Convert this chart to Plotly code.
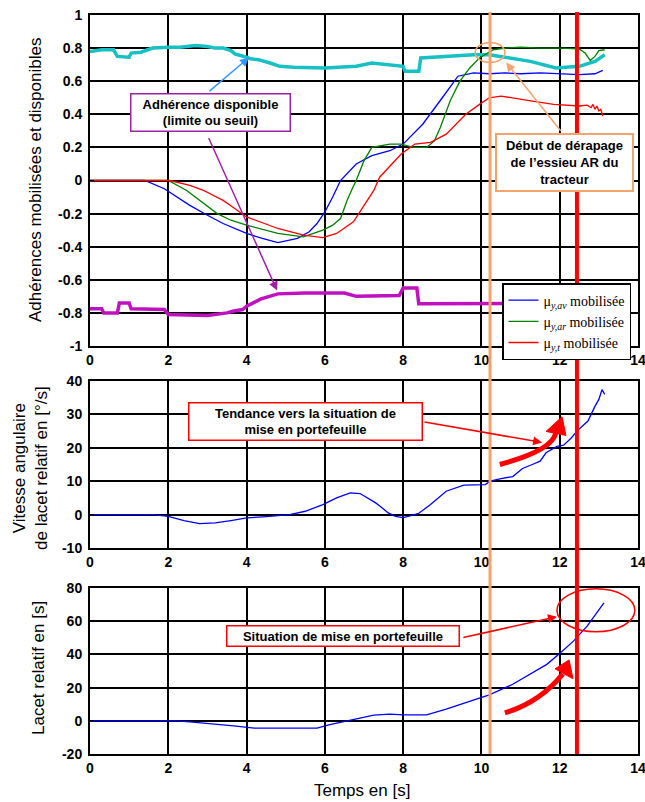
import plotly.graph_objects as go

# ---------------- DATA ----------------
# Top plot: adherences (mobilised and available)
t_av = [0, 1.4, 1.9, 2.3, 2.55, 3.0, 3.4, 4.0, 4.4, 4.8, 5.3, 5.6, 5.8, 6.0, 6.2, 6.4,
        6.8, 7.2, 7.66, 8.0, 8.5, 9.0, 9.4, 9.8, 10.2, 10.6, 11.0, 11.5, 12.0, 12.5,
        12.9, 13.05, 13.1]
mu_av = [0, 0, -0.05, -0.11, -0.15, -0.21, -0.26, -0.32, -0.35, -0.375, -0.35, -0.31,
         -0.26, -0.19, -0.1, 0.0, 0.1, 0.15, 0.18, 0.22, 0.34, 0.5, 0.63, 0.65, 0.645,
         0.65, 0.645, 0.65, 0.645, 0.64, 0.645, 0.66, 0.665]

t_ar = [0, 2.0, 2.47, 2.8, 3.25, 3.6, 4.0, 4.8, 5.45, 5.95, 6.2, 6.4, 6.57, 6.7, 6.8,
        7.0, 7.2, 7.66, 7.95, 8.26, 8.6, 8.8, 8.95, 9.2, 9.45, 9.7, 9.95, 10.3, 10.6,
        11.0, 11.5, 12.0, 12.5, 12.65, 12.78, 12.9, 13.0, 13.15]
mu_ar = [0, 0, -0.06, -0.12, -0.2, -0.24, -0.27, -0.32, -0.34, -0.30, -0.27, -0.23,
         -0.12, -0.05, 0.0, 0.12, 0.2, 0.22, 0.22, 0.2, 0.2, 0.24, 0.32, 0.48, 0.6, 0.68,
         0.74, 0.79, 0.8, 0.805, 0.80, 0.80, 0.795, 0.77, 0.725, 0.75, 0.785, 0.79]

t_t = [0, 2.04, 2.55, 2.9, 3.07, 3.4, 3.58, 4.0, 4.8, 5.45, 5.95, 6.3, 6.73, 7.08, 7.25,
       7.4, 7.7, 7.95, 8.3, 8.7, 9.1, 9.6, 9.95, 10.2, 10.5, 10.8, 11.3, 11.85, 12.2,
       12.5, 12.7, 12.8, 12.85, 12.9, 12.95, 13.0, 13.05, 13.1]
mu_t = [0, 0, -0.03, -0.06, -0.08, -0.12, -0.15, -0.22, -0.29, -0.33, -0.345, -0.32,
        -0.25, -0.12, -0.06, 0.02, 0.1, 0.16, 0.22, 0.23, 0.28, 0.40, 0.46, 0.5, 0.51,
        0.50, 0.48, 0.46, 0.455, 0.45, 0.455, 0.44, 0.46, 0.43, 0.45, 0.42, 0.43, 0.39]

t_lim_sup = [0, 0.3, 0.6, 0.7, 1.0, 1.05, 1.3, 1.5, 1.6, 2.0, 2.3, 2.7, 3.0, 3.2, 3.4,
             3.6, 3.7, 4.0, 4.1, 4.3, 4.5, 4.6, 4.85, 5.2, 6.0, 6.8, 7.2, 7.66, 8.0,
             8.05, 8.4, 8.45, 9.1, 9.8, 10.2, 10.55, 11.25, 11.9, 12.5, 12.9, 13.15]
lim_sup = [0.78, 0.79, 0.79, 0.75, 0.745, 0.77, 0.775, 0.79, 0.80, 0.805, 0.805, 0.815,
           0.81, 0.80, 0.80, 0.785, 0.765, 0.745, 0.735, 0.73, 0.72, 0.71, 0.69, 0.685,
           0.68, 0.69, 0.71, 0.70, 0.69, 0.66, 0.66, 0.74, 0.75, 0.76, 0.76, 0.745,
           0.72, 0.68, 0.69, 0.72, 0.76]

t_lim_inf = [0, 0.3, 0.35, 0.7, 0.75, 1.0, 1.05, 1.5, 1.9, 2.0, 3.0, 3.5, 3.65, 3.9,
             4.0, 4.37, 4.6, 4.8, 5.5, 6.5, 6.8, 7.2, 7.5, 7.9, 8.0, 8.35, 8.4, 9.0,
             10.0, 11.0, 12.0, 13.1]
lim_inf = [-0.775, -0.775, -0.80, -0.80, -0.74, -0.74, -0.775, -0.78, -0.78, -0.81,
           -0.815, -0.80, -0.79, -0.78, -0.76, -0.715, -0.70, -0.685, -0.68, -0.68,
           -0.70, -0.70, -0.695, -0.695, -0.65, -0.65, -0.745, -0.745, -0.745, -0.74,
           -0.74, -0.74]

# Middle plot: relative yaw rate [deg/s]
t_rate = [0, 1.6, 2.0, 2.4, 2.8, 3.2, 3.6, 4.0, 4.5, 5.1, 5.5, 5.95, 6.3, 6.65, 6.9,
          7.1, 7.3, 7.41, 7.62, 7.8, 8.0, 8.2, 8.4, 8.7, 9.1, 9.55, 10.1, 10.22, 10.5,
          10.8, 11.05, 11.3, 11.5, 11.65, 11.93, 12.1, 12.3, 12.44, 12.72, 12.9, 13.0,
          13.08, 13.15]
yaw_rate = [0, 0, -0.5, -1.8, -2.7, -2.5, -1.8, -1.0, -0.6, 0.0, 1.0, 3.0, 5.0, 6.5,
            6.3, 5.0, 3.5, 2.5, 0.5, -0.5, -0.9, -0.3, 0.4, 3.0, 7.0, 8.8, 9.0, 10.0,
            10.8, 11.4, 13.8, 15.0, 16.0, 18.5, 20.4, 20.8, 23.0, 25.0, 28.0, 32.4,
            34.5, 37.4, 36.0]

# Bottom plot: relative yaw
t_yaw = [0, 2.2, 2.55, 3.0, 3.67, 4.2, 5.0, 5.8, 6.1, 6.4, 6.73, 7.0, 7.25, 7.66, 8.0,
         8.6, 9.1, 9.6, 10.2, 10.8, 11.24, 11.67, 12.0, 12.35, 12.7, 12.95, 13.13]
yaw = [0, 0, -0.6, -1.5, -3.0, -4.4, -4.4, -4.4, -2.4, -1.0, 0.6, 2.0, 3.4, 4.0, 3.6,
       3.6, 7.0, 11.0, 15.6, 22.0, 28.0, 34.0, 40.5, 48.0, 57.0, 65.0, 71.0]

# Event times
t_derapage = 10.22
t_portefeuille = 12.44

# Tick labels
x_ticks = [0, 2, 4, 6, 8, 10, 12, 14]
x_labels = ["0", "2", "4", "6", "8", "10", "12", "14"]
y1_ticks = [1, 0.8, 0.6, 0.4, 0.2, 0, -0.2, -0.4, -0.6, -0.8, -1]
y1_labels = ["1", "0.8", "0.6", "0.4", "0.2", "0", "-0.2", "-0.4", "-0.6", "-0.8", "-1"]
y2_ticks = [40, 30, 20, 10, 0, -10]
y2_labels = ["40", "30", "20", "10", "0", "-10"]
y3_ticks = [80, 60, 40, 20, 0, -20]
y3_labels = ["80", "60", "40", "20", "0", "-20"]

legend_names = ["μ<sub><i>y,av</i></sub> mobilisée",
                "μ<sub><i>y,ar</i></sub> mobilisée",
                "μ<sub><i>y,t</i></sub> mobilisée"]

# ---------------- FIGURE ----------------
CYAN = "#17C0C4"
MAGENTA = "#C010C0"
ORANGE = "#F4A26E"
PURPLE = "#A020A8"
RED = "#FF0000"
SANS = "Liberation Sans, Arial, sans-serif"

fig = go.Figure()
fig.add_trace(go.Scatter(x=t_lim_sup, y=lim_sup, mode="lines", showlegend=False,
                         line=dict(color=CYAN, width=3.5), xaxis="x", yaxis="y"))
fig.add_trace(go.Scatter(x=t_lim_inf, y=lim_inf, mode="lines", showlegend=False,
                         line=dict(color=MAGENTA, width=3.5), xaxis="x", yaxis="y"))
fig.add_trace(go.Scatter(x=t_av, y=mu_av, mode="lines", name=legend_names[0],
                         line=dict(color="#0000FF", width=1.3), xaxis="x", yaxis="y"))
fig.add_trace(go.Scatter(x=t_ar, y=mu_ar, mode="lines", name=legend_names[1],
                         line=dict(color="#008000", width=1.3), xaxis="x", yaxis="y"))
fig.add_trace(go.Scatter(x=t_t, y=mu_t, mode="lines", name=legend_names[2],
                         line=dict(color="#FF0000", width=1.3), xaxis="x", yaxis="y"))
fig.add_trace(go.Scatter(x=t_rate, y=yaw_rate, mode="lines", showlegend=False,
                         line=dict(color="#0000FF", width=1.3), xaxis="x2", yaxis="y2"))
fig.add_trace(go.Scatter(x=t_yaw, y=yaw, mode="lines", showlegend=False,
                         line=dict(color="#0000FF", width=1.3), xaxis="x3", yaxis="y3"))

tickfont = dict(family=SANS, size=14, color="black", weight="bold")
common_x = dict(range=[0, 14], tickvals=x_ticks, ticktext=x_labels, showgrid=True,
                gridcolor="black", gridwidth=1.5, showline=True, linecolor="black",
                linewidth=2, mirror=True, ticks="inside", ticklen=4, tickcolor="black",
                tickfont=tickfont, zeroline=False, domain=[0, 1],
                ticklabeloverflow="allow")
common_y = dict(showgrid=True, gridcolor="black", gridwidth=1.5, showline=True,
                linecolor="black", linewidth=2, mirror=True, ticks="inside", ticklen=4,
                tickcolor="black", tickfont=tickfont, zeroline=False,
                ticklabeloverflow="allow", ticklabelstandoff=3)

# plot area in page px: x 90-638, y 15-754
H = 739.0
def py(p):
    return (754 - p) / H

fig.update_layout(
    width=645, height=802,
    margin=dict(l=90, r=7, t=15, b=48, autoexpand=False),
    paper_bgcolor="white", plot_bgcolor="white",
    xaxis=dict(common_x, anchor="y"),
    xaxis2=dict(common_x, anchor="y2"),
    xaxis3=dict(common_x, anchor="y3"),
    yaxis=dict(common_y, domain=[py(346), 1], anchor="x", range=[-1, 1],
               tickvals=y1_ticks, ticktext=y1_labels),
    yaxis2=dict(common_y, domain=[py(548), py(381)], anchor="x2", range=[-10, 40],
                tickvals=y2_ticks, ticktext=y2_labels),
    yaxis3=dict(common_y, domain=[0, py(588)], anchor="x3", range=[-20, 80],
                tickvals=y3_ticks, ticktext=y3_labels),
    legend=dict(x=(502 - 90) / 548.0, y=py(283), xanchor="left", yanchor="top",
                bgcolor="white", bordercolor="black", borderwidth=1.5,
                font=dict(family="Liberation Serif, Times New Roman, serif", size=14,
                          color="black"),
                tracegroupgap=0, itemwidth=30),
    showlegend=True,
)

shapes = []
# Event vertical lines across the three plots
shapes.append(dict(type="line", xref="x", yref="paper", x0=t_derapage, x1=t_derapage,
                   y0=0, y1=1.004, line=dict(color=ORANGE, width=3), layer="above"))
shapes.append(dict(type="line", xref="x", yref="paper", x0=t_portefeuille,
                   x1=t_portefeuille, y0=0, y1=1.004, line=dict(color=RED, width=4),
                   layer="above"))
# Orange ellipse (start of slip)
shapes.append(dict(type="circle", xref="x", yref="y", x0=9.84, x1=10.6, y0=0.713,
                   y1=0.834, line=dict(color=ORANGE, width=1.5), layer="above"))
# Red ellipse (jackknife)
shapes.append(dict(type="circle", xref="x3", yref="y3", x0=11.93, x1=13.92, y0=53.6,
                   y1=79.5, line=dict(color=RED, width=1.5), layer="above"))
# Thick curved arrows
shapes.append(dict(type="path", xref="x2", yref="y2",
                   path="M 10.47,15.0 Q 11.815,19.25 11.9,24.5",
                   line=dict(color=RED, width=5), layer="above"))
shapes.append(dict(type="path", xref="x2", yref="y2",
                   path="M 11.65,24.9 L 12.06,29.3 L 12.16,23.7 Z",
                   line=dict(color=RED, width=1), fillcolor=RED, layer="above"))
shapes.append(dict(type="path", xref="x3", yref="y3",
                   path="M 10.6,4.8 Q 11.5,11.25 12.08,28.3",
                   line=dict(color=RED, width=5), layer="above"))
shapes.append(dict(type="path", xref="x3", yref="y3",
                   path="M 11.88,31.3 L 12.24,36.7 L 12.34,25.3 Z",
                   line=dict(color=RED, width=1), fillcolor=RED, layer="above"))
fig.update_layout(shapes=shapes)

afont = dict(family=SANS, size=13, color="black", weight="bold")
ann = []
# Text boxes
ann.append(dict(xref="x", yref="y", x=3.079, y=0.408, showarrow=False,
                text="Adhérence disponible<br>(limite ou seuil)", font=afont,
                bgcolor="white", bordercolor=PURPLE, borderwidth=1.5, borderpad=1,
                width=156, height=34, align="center"))
ann.append(dict(xref="x", yref="y", x=12.11, y=0.109, showarrow=False,
                text="Début de dérapage<br>de l’essieu AR du<br>tracteur", font=afont,
                bgcolor="white", bordercolor=ORANGE, borderwidth=2, borderpad=1,
                width=133, height=53, align="center"))
ann.append(dict(xref="x2", yref="y2", x=5.506, y=28.0, showarrow=False,
                text="Tendance vers la situation de<br>mise en portefeuille", font=afont,
                bgcolor="white", bordercolor=RED, borderwidth=1.5, borderpad=1,
                width=230, height=34, align="center"))
ann.append(dict(xref="x3", yref="y3", x=6.464, y=51.2, showarrow=False,
                text="Situation de mise en portefeuille", font=afont,
                bgcolor="white", bordercolor=RED, borderwidth=1.5, borderpad=1,
                width=229, height=17, align="center"))
# Thin arrows
def arrow(xr, yr, x, y, ax, ay, color, head=2):
    return dict(xref=xr, yref=yr, axref=xr, ayref=yr, x=x, y=y, ax=ax, ay=ay, text="",
                showarrow=True, arrowhead=head, arrowsize=1.2, arrowwidth=1.5,
                arrowcolor=color, standoff=0, startstandoff=0)

ann.append(arrow("x", "y", 4.062, 0.743, 3.015, 0.532, "#3399FF"))
ann.append(arrow("x", "y", 4.78, -0.665, 3.015, 0.266, PURPLE))
ann.append(arrow("x", "y", 10.63, 0.713, 12.06, 0.29, ORANGE))
ann.append(arrow("x2", "y2", 11.55, 21.6, 8.51, 27.8, RED))
ann.append(arrow("x3", "y3", 11.93, 62.7, 9.5, 50.0, RED))

# Axis titles
tfont = dict(family=SANS, size=17, color="black")
ann.append(dict(xref="paper", yref="paper", x=(35 - 90) / 548.0, y=py(180),
                text="Adhérences mobilisées et disponibles", textangle=-90,
                showarrow=False, font=tfont, xanchor="center", yanchor="middle"))
ann.append(dict(xref="paper", yref="paper", x=(30 - 90) / 548.0, y=py(468),
                text="Vitesse angulaire<br>de lacet relatif en [°/s]", textangle=-90,
                showarrow=False, font=tfont, xanchor="center", yanchor="middle"))
ann.append(dict(xref="paper", yref="paper", x=(38 - 90) / 548.0, y=py(668),
                text="Lacet relatif en [s]", textangle=-90,
                showarrow=False, font=tfont, xanchor="center", yanchor="middle"))
ann.append(dict(xref="paper", yref="paper", x=(362 - 90) / 548.0, y=py(790),
                text="Temps en [s]", showarrow=False,
                font=dict(family=SANS, size=17, color="black"),
                xanchor="center", yanchor="middle"))
fig.update_layout(annotations=ann)

fig.write_html(
    "out.html",
    config={"displayModeBar": False},
    post_script="document.body.style.margin='0px';document.body.style.overflow='hidden';",
)
